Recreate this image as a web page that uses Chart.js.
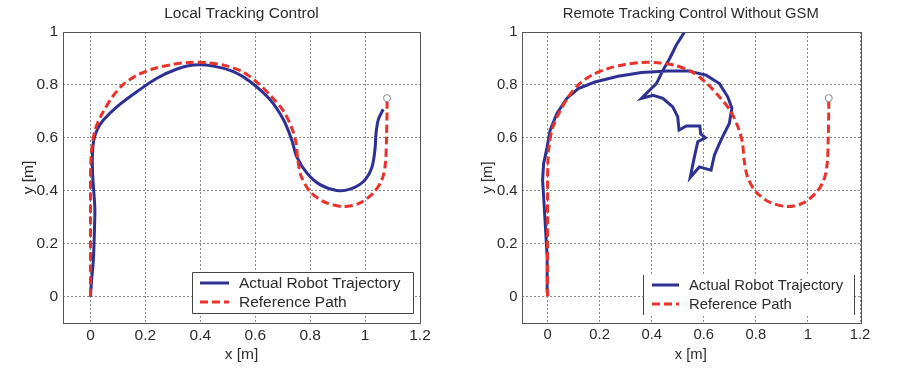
<!DOCTYPE html>
<html>
<head>
<meta charset="utf-8">
<script src="https://cdn.jsdelivr.net/npm/chart.js@4"></script>
<style>
  html, body { margin: 0; padding: 0; background: #fff; }
  #wrap { position: relative; width: 900px; height: 368px; }
  .panel { position: absolute; top: 0; width: 450px; height: 368px; }
</style>
</head>
<body>
<div id="wrap">
  <div class="panel" style="left:0"><canvas id="local" width="450" height="368"></canvas></div>
  <div class="panel" style="left:450px"><canvas id="remote" width="450" height="368"></canvas></div>
</div>
<script>
// tick values, both panels
const xTicks = [0, 0.2, 0.4, 0.6, 0.8, 1, 1.2];
const yTicks = [0, 0.2, 0.4, 0.6, 0.8, 1];

const seriesLabels = ['Actual Robot Trajectory', 'Reference Path'];
const panelTitles = ['Local Tracking Control', 'Remote Tracking Control Without GSM'];

// reference path [x, y] (same in both panels)
const referencePath = [
    [0, 0], [0, 0.1], [0, 0.2], [0, 0.3], [0, 0.4], [0.001, 0.5], [0.005, 0.56],
    [0.017, 0.63], [0.042, 0.69], [0.08, 0.755], [0.118, 0.8], [0.17, 0.837],
    [0.233, 0.862], [0.297, 0.877], [0.36, 0.885], [0.424, 0.884], [0.488, 0.874],
    [0.552, 0.851], [0.609, 0.808], [0.66, 0.755], [0.705, 0.698], [0.736, 0.629],
    [0.749, 0.579], [0.755, 0.516], [0.768, 0.453], [0.8, 0.396], [0.851, 0.358],
    [0.921, 0.34], [0.978, 0.352], [1.029, 0.39], [1.061, 0.44], [1.074, 0.503],
    [1.078, 0.6], [1.08, 0.7], [1.08, 0.75]
];

// actual trajectory, local control
const localActual = [
    [0, 0], [0.004, 0.06], [0.01, 0.13], [0.013, 0.2], [0.015, 0.27], [0.016, 0.33],
    [0.012, 0.4], [0.008, 0.46], [0.007, 0.53], [0.012, 0.59], [0.025, 0.632],
    [0.048, 0.668], [0.097, 0.718], [0.17, 0.775], [0.242, 0.825], [0.315, 0.86],
    [0.376, 0.875], [0.448, 0.871], [0.521, 0.85], [0.582, 0.812], [0.655, 0.743],
    [0.703, 0.668], [0.733, 0.592], [0.751, 0.529], [0.788, 0.467], [0.836, 0.423],
    [0.897, 0.401], [0.945, 0.406], [0.994, 0.435], [1.024, 0.486], [1.036, 0.555],
    [1.04, 0.618], [1.048, 0.668], [1.066, 0.708]
];

// actual trajectory, remote control without GSM
const remoteActual = [
    [0, 0.02], [-0.001, 0.1], [-0.002, 0.15], [-0.009, 0.277], [-0.015, 0.377],
    [-0.019, 0.44], [-0.015, 0.503], [-0.002, 0.563], [0.01, 0.629], [0.036, 0.692],
    [0.074, 0.749], [0.118, 0.786], [0.182, 0.811], [0.271, 0.833], [0.361, 0.847],
    [0.462, 0.853], [0.539, 0.853], [0.609, 0.837], [0.66, 0.805], [0.692, 0.755],
    [0.708, 0.712], [0.698, 0.654], [0.666, 0.591], [0.641, 0.535], [0.628, 0.478],
    [0.583, 0.49], [0.548, 0.45], [0.564, 0.528], [0.577, 0.585], [0.606, 0.6],
    [0.588, 0.615], [0.585, 0.645], [0.533, 0.645], [0.505, 0.629], [0.5, 0.679],
    [0.481, 0.717], [0.443, 0.749], [0.405, 0.761], [0.361, 0.749], [0.386, 0.774],
    [0.418, 0.805], [0.443, 0.855], [0.469, 0.9], [0.494, 0.95], [0.526, 1.0], [0.54, 1.02]
];

const BLUE = '#2e3192';
const RED = '#e8322a';
const TEXT = '#2b2b2b';
const FAMILY = '"Liberation Sans", Arial, sans-serif';

const toPoints = arr => arr.map(p => ({ x: p[0], y: p[1] }));

// frame, title and legend drawn on the canvas
const decorPlugin = {
    id: 'decor',
    afterDraw(chart, args, opts) {
        const { ctx, chartArea: a } = chart;
        ctx.save();
        ctx.font = `${opts.fontSize}px ${FAMILY}`;
        ctx.fillStyle = TEXT;
        ctx.textAlign = 'center';
        ctx.textBaseline = 'middle';
        ctx.fillText(opts.title, (a.left + a.right) / 2, 14);

        ctx.strokeStyle = '#555';
        ctx.lineWidth = 1;
        ctx.strokeRect(Math.round(a.left) + 0.5, Math.round(a.top) + 0.5,
            Math.round(a.right - a.left), Math.round(a.bottom - a.top));

        const L = opts.legend;
        ctx.fillStyle = '#fff';
        ctx.fillRect(L.x, L.y, L.w, L.h);
        ctx.strokeStyle = '#444';
        ctx.beginPath();
        if (L.full) {
            ctx.rect(L.x + 0.5, L.y + 0.5, L.w, L.h);
        } else {
            ctx.moveTo(L.x + 0.5, L.y); ctx.lineTo(L.x + 0.5, L.y + L.h);
            ctx.moveTo(L.x + L.w + 0.5, L.y); ctx.lineTo(L.x + L.w + 0.5, L.y + L.h);
        }
        ctx.stroke();

        const rows = [
            { color: BLUE, dash: [], label: seriesLabels[0] },
            { color: RED, dash: [8, 4], label: seriesLabels[1] }
        ];
        rows.forEach((r, i) => {
            const y = L.rowY[i];
            ctx.strokeStyle = r.color;
            ctx.lineWidth = 3;
            ctx.setLineDash(r.dash);
            ctx.beginPath();
            ctx.moveTo(L.lineX0, y);
            ctx.lineTo(L.lineX1, y);
            ctx.stroke();
            ctx.setLineDash([]);
            ctx.fillStyle = TEXT;
            ctx.textAlign = 'left';
            ctx.fillText(r.label, L.textX, y + 1);
        });
        ctx.restore();
    }
};

function makeChart(id, actual, opt) {
    const end = referencePath[referencePath.length - 1];
    const font = { family: FAMILY, size: opt.fontSize };
    return new Chart(document.getElementById(id), {
        type: 'scatter',
        data: {
            datasets: [
                {
                    label: 'end',
                    data: toPoints([end]),
                    pointRadius: 3.5,
                    pointBorderColor: '#888',
                    pointBackgroundColor: '#fff',
                    pointBorderWidth: 1,
                    showLine: false
                },
                {
                    label: seriesLabels[1],
                    data: toPoints(referencePath),
                    showLine: true,
                    borderColor: RED,
                    borderWidth: 3,
                    borderDash: [8, 4],
                    pointRadius: 0,
                    tension: 0.3
                },
                {
                    label: seriesLabels[0],
                    data: toPoints(actual),
                    showLine: true,
                    borderColor: BLUE,
                    borderWidth: 3,
                    pointRadius: 0,
                    tension: opt.tension
                }
            ]
        },
        options: {
            responsive: false,
            animation: false,
            devicePixelRatio: 1,
            layout: { padding: { top: 32, right: opt.padRight, left: 0, bottom: 0 } },
            plugins: {
                legend: { display: false },
                tooltip: { enabled: false },
                decor: { title: opt.title, legend: opt.legend, fontSize: opt.fontSize }
            },
            scales: {
                x: {
                    type: 'linear',
                    min: -0.1,
                    max: 1.2,
                    afterBuildTicks: s => { s.ticks = xTicks.map(v => ({ value: v })); },
                    afterFit: s => { s.height = 45; },
                    grid: { color: '#8a8a8a', drawTicks: false, lineWidth: 1 },
                    border: { display: false, dash: [2, 2] },
                    ticks: { color: TEXT, font, padding: 3, maxRotation: 0, autoSkip: false,
                        callback: v => String(v) },
                    title: { display: true, text: 'x [m]', color: TEXT, font, padding: { top: 0, bottom: 4 } }
                },
                y: {
                    type: 'linear',
                    min: -0.1,
                    max: 1,
                    afterBuildTicks: s => { s.ticks = yTicks.map(v => ({ value: v })); },
                    afterFit: s => { s.width = opt.yWidth; },
                    grid: { color: '#8a8a8a', drawTicks: false, lineWidth: 1 },
                    border: { display: false, dash: [2, 2] },
                    ticks: { color: TEXT, font, padding: opt.tickPad, autoSkip: false,
                        callback: v => String(v) },
                    title: { display: true, text: 'y [m]', color: TEXT, font, padding: { top: opt.yTitlePad, bottom: 0 } }
                }
            }
        },
        plugins: [decorPlugin]
    });
}

makeChart('local', localActual, {
    title: panelTitles[0],
    fontSize: 15.5,
    padRight: 30,
    yWidth: 63,
    tickPad: 5,
    yTitlePad: 19,
    tension: 0.3,
    legend: { x: 192, y: 272, w: 221, h: 41, full: true, lineX0: 200, lineX1: 229, textX: 239, rowY: [283, 302] }
});

makeChart('remote', remoteActual, {
    title: panelTitles[1],
    fontSize: 14.8,
    padRight: 40,
    yWidth: 71.5,
    tickPad: 4,
    yTitlePad: 29,
    tension: 0,
    legend: { x: 193, y: 275, w: 211, h: 40, full: false, lineX0: 202, lineX1: 229, textX: 239, rowY: [285, 304] }
});
</script>
</body>
</html>
